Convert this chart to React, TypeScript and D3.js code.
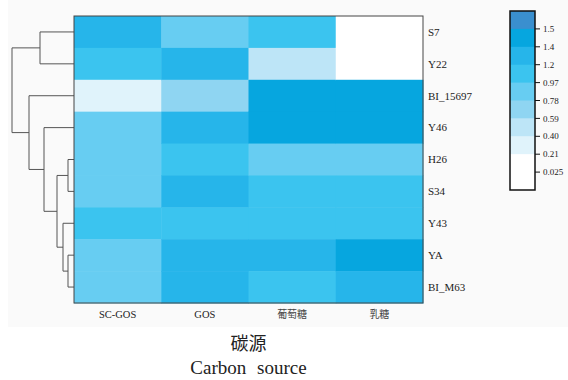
import * as d3 from "d3";

const rows = ["S7", "Y22", "BI_15697", "Y46", "H26", "S34", "Y43", "YA", "BI_M63"];
const cols = ["SC-GOS", "GOS", "葡萄糖", "乳糖"];

// values per column (row order as above)
const scGos = [1.3, 1.08, 0.3, 0.88, 0.88, 0.88, 1.08, 0.88, 0.88];
const gos = [0.88, 1.3, 0.7, 1.3, 1.08, 1.3, 1.08, 1.3, 1.3];
const glucose = [1.08, 0.5, 1.45, 1.45, 0.88, 1.08, 1.08, 1.3, 1.08];
const lactose = [0.1, 0.1, 1.45, 1.45, 0.88, 1.08, 1.08, 1.45, 1.3];
const series = [scGos, gos, glucose, lactose];

// dendrogram linkage: [left, right, height]; leaves are 0..8, merges numbered from 9
const linkage: [number, number, number][] = [
  [4, 5, 6],
  [7, 8, 6],
  [6, 10, 11],
  [9, 11, 17],
  [3, 12, 30],
  [0, 1, 34],
  [2, 13, 45],
  [14, 15, 62],
];

const thresholds = [0.025, 0.21, 0.4, 0.59, 0.78, 0.97, 1.2, 1.4, 1.5];
const palette = ["#ffffff", "#ffffff", "#e0f3fb", "#bde5f7", "#8fd5f2", "#67cdf2", "#3bc4ef", "#26b5ea", "#06a6df", "#3a8fcf"];
const tickLabels = ["1.5", "1.4", "1.2", "0.97", "0.78", "0.59", "0.40", "0.21", "0.025"];

const width = 568;
const height = 380;
const serif =
  "'Liberation Serif', 'Times New Roman', Times, Tinos, 'Nimbus Roman', 'Noto Serif', 'DejaVu Serif', Georgia, serif";
const cjk = "'Noto Sans CJK SC', sans-serif";

export default function App() {
  const x = d3.scaleBand(cols, [74, 423]);
  const y = d3.scaleBand(rows, [16, 303]);
  const color = d3.scaleThreshold<number, string>(thresholds, palette);
  const h = d3.scaleLinear([0, 62], [74, 12]);

  // dendrogram node positions
  const nodeY: number[] = rows.map((r) => y(r)! + y.bandwidth() / 2);
  const nodeX: number[] = rows.map(() => h(0));
  const links: string[] = [];
  linkage.forEach(([a, b, ht]) => {
    const hx = h(ht);
    const p = d3.path();
    p.moveTo(nodeX[a], nodeY[a]);
    p.lineTo(hx, nodeY[a]);
    p.lineTo(hx, nodeY[b]);
    p.lineTo(nodeX[b], nodeY[b]);
    links.push(p.toString());
    nodeX.push(hx);
    nodeY.push((nodeY[a] + nodeY[b]) / 2);
  });

  // legend
  const legendBins = d3.range(palette.length).reverse();
  const ly = d3.scaleBand(legendBins, [11, 190]);
  const lt = d3.scalePoint(tickLabels, [ly(8)!, ly(0)!]);

  return (
    <svg
      width={width}
      height={height}
      style={{ position: "absolute", left: 0, top: 0, background: "#fff" }}
    >
      <rect x={8} y={0} width={560} height={327} fill="#fafafa" />

      {links.map((d, i) => (
        <path key={i} d={d} fill="none" stroke="#555" strokeWidth={1} />
      ))}

      {series.map((vals, ci) =>
        vals.map((v, ri) => (
          <rect
            key={`${ci}-${ri}`}
            x={x(cols[ci])}
            y={y(rows[ri])}
            width={x.bandwidth() + 0.5}
            height={y.bandwidth() + 0.5}
            fill={color(v)}
          />
        ))
      )}
      <rect x={74} y={16} width={349} height={287} fill="none" stroke="#444" strokeWidth={1} />

      <g style={{ fontFamily: serif }} fill="#222">
        {rows.map((r) => (
          <text key={r} x={428} y={y(r)! + y.bandwidth() / 2} dy="0.35em" fontSize={11}>
            {r}
          </text>
        ))}
        {cols.map((c, i) => (
          <text
            key={c}
            x={x(c)! + x.bandwidth() / 2}
            y={318}
            textAnchor="middle"
            style={i < 2 ? undefined : { fontFamily: cjk }}
            fontSize={i < 2 ? 10.5 : 10}
            fill={i < 2 ? "#222" : "#444"}
          >
            {c}
          </text>
        ))}

        {legendBins.map((b) => (
          <rect key={b} x={510} y={ly(b)} width={25} height={ly.bandwidth() + 0.5} fill={palette[b]} />
        ))}
        <rect x={510} y={11} width={25} height={179} fill="none" stroke="#111" strokeWidth={1.5} />
        {tickLabels.map((t) => (
          <g key={t} transform={`translate(535,${lt(t)})`}>
            <line x1={0} x2={5} stroke="#111" strokeWidth={1} />
            <text x={8} dy="0.35em" fontSize={9}>
              {t}
            </text>
          </g>
        ))}

        <text x={248.5} y={350} textAnchor="middle" style={{ fontFamily: cjk }} fontSize={18}>
          碳源
        </text>
        <text x={248.5} y={374} textAnchor="middle" fontSize={19} wordSpacing={6}>
          Carbon source
        </text>
      </g>
    </svg>
  );
}
